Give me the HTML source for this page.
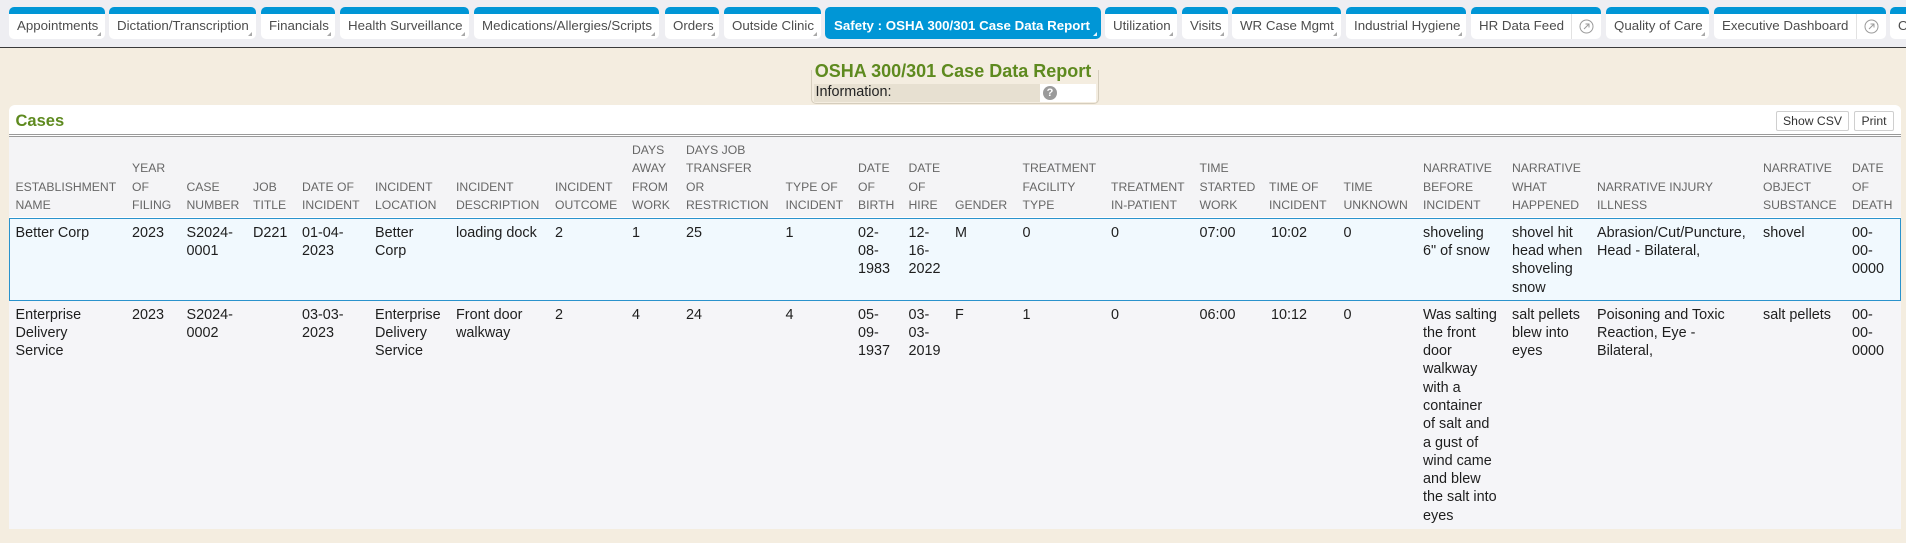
<!DOCTYPE html>
<html><head><meta charset="utf-8">
<style>
*{margin:0;padding:0;box-sizing:border-box}
body{width:1906px;height:543px;overflow:hidden;position:relative;background:#f4ede0;font-family:"Liberation Sans",Arial,sans-serif;}
#top{position:absolute;left:0;top:0;width:1906px;height:48px;background:#eeeef2;border-bottom:1px solid #3a3a3a}
.tab{position:absolute;top:7px;height:32px;background:#fff;border-top:7px solid #0096d6;border-radius:5px;overflow:hidden;white-space:nowrap}
.tab span{position:absolute;left:8px;top:4.1px;font-size:13.3px;line-height:16px;color:#4d4d4d}
.tab.tri::after{content:"";position:absolute;right:4px;bottom:3px;width:0;height:0;border-left:4px solid transparent;border-bottom:4px solid #a8a8a8}
.tab.act{background:#0096d6}
.tab.act span{color:#fff;font-weight:bold;left:9px}
.tab.act::after{border-bottom-color:#e8f4fb}
.div{position:absolute;top:0;width:1px;height:25px;background:#e2e2e2}
.ico{position:absolute;top:5px}
#title{position:absolute;left:0;width:1906px;top:60px;text-align:center;font-size:18px;line-height:22px;font-weight:bold;color:#5e8a1f}
#infobox{position:absolute;left:811px;top:70px;width:288px;height:34px;border:1px solid #d5cdbd;border-top:none;border-radius:0 0 5px 5px}
#infolbl{position:absolute;left:814px;top:84px;width:226px;height:18px;background:#e7e0d1}
#infowh{position:absolute;left:1040px;top:84px;width:56px;height:18px;background:#fff}
#infotxt{position:absolute;left:815.5px;top:83.2px;font-size:14.4px;line-height:18.3px;color:#222}
#q{position:absolute;left:1043px;top:85.7px;width:14px;height:14px;border-radius:50%;background:#9a9a9a;color:#fff;font-size:11px;line-height:14px;text-align:center;font-weight:bold}
#panel{position:absolute;left:9px;top:105px;width:1892px;height:424px;background:#fff;border-radius:6px 6px 0 0}
#cases{position:absolute;left:15.5px;top:111.3px;font-size:16.5px;line-height:20px;font-weight:bold;color:#5e8a1f}
.btn{position:absolute;top:111px;height:20px;border:1px solid #cfcfcf;border-radius:2px;background:#fff;font-size:12.2px;line-height:18px;text-align:center;color:#333}
#dbl{position:absolute;left:9px;top:134px;width:1892px;height:3px;border-top:1px solid #9a9a9a;border-bottom:1px solid #9a9a9a}
#hdr{position:absolute;left:9px;top:137px;width:1892px;height:80px;background:#f4f4f6}
#hcells{position:absolute;left:0;top:137px;width:1906px;height:77.3px}
.h{position:absolute;bottom:0;font-size:12.2px;line-height:18.3px;color:#676767;white-space:nowrap}
#r1{position:absolute;left:9px;top:218px;width:1892px;height:83px;background:#f1f9fe;border:1px solid #2a92cc}
#r2{position:absolute;left:9px;top:301px;width:1892px;height:228px;background:#f5f5f8}
.c{position:absolute;font-size:14.4px;line-height:18.3px;color:#1e1e1e;white-space:nowrap}
</style></head><body>
<div id="top"></div>
<div class="tab tri" style="left:9px;width:96px"><span>Appointments</span></div>
<div class="tab tri" style="left:109px;width:147px"><span>Dictation/Transcription</span></div>
<div class="tab tri" style="left:261px;width:74px"><span>Financials</span></div>
<div class="tab tri" style="left:340px;width:129px"><span>Health Surveillance</span></div>
<div class="tab tri" style="left:474px;width:185px"><span>Medications/Allergies/Scripts</span></div>
<div class="tab tri" style="left:665px;width:54px"><span>Orders</span></div>
<div class="tab tri" style="left:724px;width:97px"><span>Outside Clinic</span></div>
<div class="tab tri act" style="left:825px;width:276px"><span>Safety : OSHA 300/301 Case Data Report</span></div>
<div class="tab tri" style="left:1105px;width:72px"><span>Utilization</span></div>
<div class="tab tri" style="left:1182px;width:46px"><span>Visits</span></div>
<div class="tab tri" style="left:1232px;width:109px"><span>WR Case Mgmt</span></div>
<div class="tab tri" style="left:1346px;width:120px"><span>Industrial Hygiene</span></div>
<div class="tab" style="left:1471px;width:130px"><span>HR Data Feed</span><div class="div" style="left:100px"></div>
<svg class="ico" style="left:108px" width="15" height="15" viewBox="0 0 15 15"><circle cx="7.5" cy="7.5" r="6.5" fill="none" stroke="#9a9a9a" stroke-width="1"/><path d="M5 10 L10 5 M6.5 5 H10 V8.5" fill="none" stroke="#9a9a9a" stroke-width="1"/></svg></div>
<div class="tab tri" style="left:1606px;width:103px"><span>Quality of Care</span></div>
<div class="tab" style="left:1714px;width:172px"><span>Executive Dashboard</span><div class="div" style="left:142px"></div>
<svg class="ico" style="left:150px" width="15" height="15" viewBox="0 0 15 15"><circle cx="7.5" cy="7.5" r="6.5" fill="none" stroke="#9a9a9a" stroke-width="1"/><path d="M5 10 L10 5 M6.5 5 H10 V8.5" fill="none" stroke="#9a9a9a" stroke-width="1"/></svg></div>
<div class="tab" style="left:1890px;width:40px"><span>O</span></div>

<div id="title">OSHA 300/301 Case Data Report</div>
<div id="infobox"></div>
<div id="infolbl"></div>
<div id="infowh"></div>
<div id="infotxt">Information:</div>
<div id="q">?</div>

<div id="panel"></div>
<div id="cases">Cases</div>
<div class="btn" style="left:1776px;width:73px">Show CSV</div>
<div class="btn" style="left:1854px;width:40px">Print</div>
<div id="dbl"></div>
<div id="hdr"></div>
<div id="r1"></div>
<div id="r2"></div>

<div id="hcells">
<div class="h" style="left:15.5px">ESTABLISHMENT<br>NAME</div>
<div class="h" style="left:132px">YEAR<br>OF<br>FILING</div>
<div class="h" style="left:186.5px">CASE<br>NUMBER</div>
<div class="h" style="left:253px">JOB<br>TITLE</div>
<div class="h" style="left:302px">DATE OF<br>INCIDENT</div>
<div class="h" style="left:375px">INCIDENT<br>LOCATION</div>
<div class="h" style="left:456px">INCIDENT<br>DESCRIPTION</div>
<div class="h" style="left:555px">INCIDENT<br>OUTCOME</div>
<div class="h" style="left:632px">DAYS<br>AWAY<br>FROM<br>WORK</div>
<div class="h" style="left:686px">DAYS JOB<br>TRANSFER<br>OR<br>RESTRICTION</div>
<div class="h" style="left:785.5px">TYPE OF<br>INCIDENT</div>
<div class="h" style="left:858px">DATE<br>OF<br>BIRTH</div>
<div class="h" style="left:908.5px">DATE<br>OF<br>HIRE</div>
<div class="h" style="left:955px">GENDER</div>
<div class="h" style="left:1022.5px">TREATMENT<br>FACILITY<br>TYPE</div>
<div class="h" style="left:1111px">TREATMENT<br>IN-PATIENT</div>
<div class="h" style="left:1199.5px">TIME<br>STARTED<br>WORK</div>
<div class="h" style="left:1269px">TIME OF<br>INCIDENT</div>
<div class="h" style="left:1343.5px">TIME<br>UNKNOWN</div>
<div class="h" style="left:1423px">NARRATIVE<br>BEFORE<br>INCIDENT</div>
<div class="h" style="left:1512px">NARRATIVE<br>WHAT<br>HAPPENED</div>
<div class="h" style="left:1597px">NARRATIVE INJURY<br>ILLNESS</div>
<div class="h" style="left:1763px">NARRATIVE<br>OBJECT<br>SUBSTANCE</div>
<div class="h" style="left:1852px">DATE<br>OF<br>DEATH</div>
</div>

<!-- Row 1 -->
<div class="c" style="top:223.8px;left:15.5px">Better Corp</div>
<div class="c" style="top:223.8px;left:132px">2023</div>
<div class="c" style="top:223.8px;left:186.5px">S2024-<br>0001</div>
<div class="c" style="top:223.8px;left:253px">D221</div>
<div class="c" style="top:223.8px;left:302px">01-04-<br>2023</div>
<div class="c" style="top:223.8px;left:375px">Better<br>Corp</div>
<div class="c" style="top:223.8px;left:456px">loading dock</div>
<div class="c" style="top:223.8px;left:555px">2</div>
<div class="c" style="top:223.8px;left:632px">1</div>
<div class="c" style="top:223.8px;left:686px">25</div>
<div class="c" style="top:223.8px;left:785.5px">1</div>
<div class="c" style="top:223.8px;left:858px">02-<br>08-<br>1983</div>
<div class="c" style="top:223.8px;left:908.5px">12-<br>16-<br>2022</div>
<div class="c" style="top:223.8px;left:955px">M</div>
<div class="c" style="top:223.8px;left:1022.5px">0</div>
<div class="c" style="top:223.8px;left:1111px">0</div>
<div class="c" style="top:223.8px;left:1199.5px">07:00</div>
<div class="c" style="top:223.8px;left:1271px">10:02</div>
<div class="c" style="top:223.8px;left:1343.5px">0</div>
<div class="c" style="top:223.8px;left:1423px">shoveling<br>6" of snow</div>
<div class="c" style="top:223.8px;left:1512px">shovel hit<br>head when<br>shoveling<br>snow</div>
<div class="c" style="top:223.8px;left:1597px">Abrasion/Cut/Puncture,<br>Head - Bilateral,</div>
<div class="c" style="top:223.8px;left:1763px">shovel</div>
<div class="c" style="top:223.8px;left:1852px">00-<br>00-<br>0000</div>

<!-- Row 2 -->
<div class="c" style="top:305.5px;left:15.5px">Enterprise<br>Delivery<br>Service</div>
<div class="c" style="top:305.5px;left:132px">2023</div>
<div class="c" style="top:305.5px;left:186.5px">S2024-<br>0002</div>
<div class="c" style="top:305.5px;left:302px">03-03-<br>2023</div>
<div class="c" style="top:305.5px;left:375px">Enterprise<br>Delivery<br>Service</div>
<div class="c" style="top:305.5px;left:456px">Front door<br>walkway</div>
<div class="c" style="top:305.5px;left:555px">2</div>
<div class="c" style="top:305.5px;left:632px">4</div>
<div class="c" style="top:305.5px;left:686px">24</div>
<div class="c" style="top:305.5px;left:785.5px">4</div>
<div class="c" style="top:305.5px;left:858px">05-<br>09-<br>1937</div>
<div class="c" style="top:305.5px;left:908.5px">03-<br>03-<br>2019</div>
<div class="c" style="top:305.5px;left:955px">F</div>
<div class="c" style="top:305.5px;left:1022.5px">1</div>
<div class="c" style="top:305.5px;left:1111px">0</div>
<div class="c" style="top:305.5px;left:1199.5px">06:00</div>
<div class="c" style="top:305.5px;left:1271px">10:12</div>
<div class="c" style="top:305.5px;left:1343.5px">0</div>
<div class="c" style="top:305.5px;left:1423px">Was salting<br>the front<br>door<br>walkway<br>with a<br>container<br>of salt and<br>a gust of<br>wind came<br>and blew<br>the salt into<br>eyes</div>
<div class="c" style="top:305.5px;left:1512px">salt pellets<br>blew into<br>eyes</div>
<div class="c" style="top:305.5px;left:1597px">Poisoning and Toxic<br>Reaction, Eye -<br>Bilateral,</div>
<div class="c" style="top:305.5px;left:1763px">salt pellets</div>
<div class="c" style="top:305.5px;left:1852px">00-<br>00-<br>0000</div>
</body></html>
